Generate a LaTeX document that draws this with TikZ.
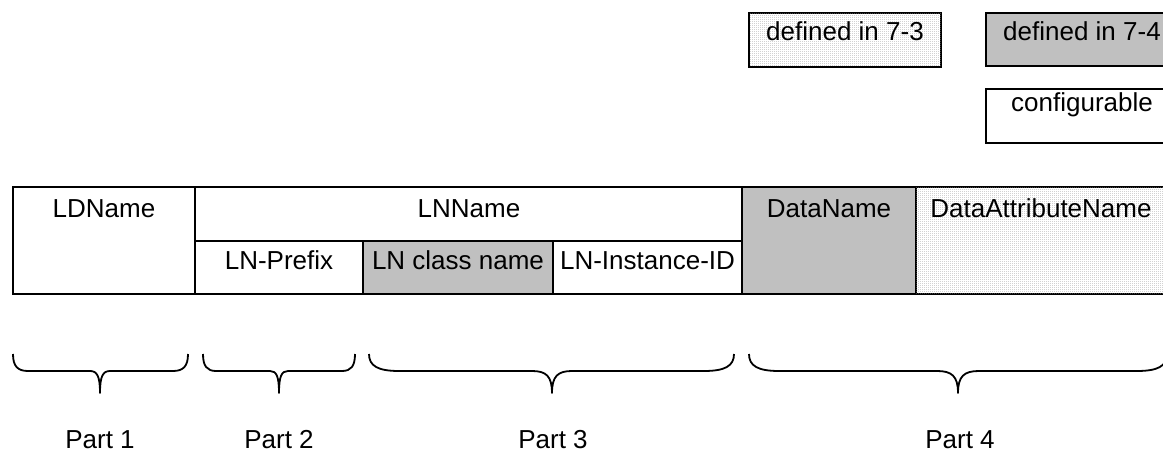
\documentclass[tikz,border=0pt]{standalone}
\usepackage{fontspec}
\setmainfont{Liberation Sans}
\usetikzlibrary{patterns}
\definecolor{cellgray}{RGB}{192,192,192}
\definecolor{dotgray}{RGB}{150,150,150}
\pgfdeclarepatternformonly{finedots}{\pgfqpoint{0pt}{0pt}}{\pgfqpoint{2pt}{2pt}}{\pgfqpoint{2pt}{2pt}}{%
  \pgfpathrectangle{\pgfqpoint{0pt}{0pt}}{\pgfqpoint{1pt}{1pt}}\pgfusepath{fill}}
\newcommand{\drawbrace}[5]{% x1, x2, xm, end radius, cusp radius
  \pgfmathsetmacro{\ba}{#1+#4}\pgfmathsetmacro{\bb}{#1+0.3*#4}%
  \pgfmathsetmacro{\bc}{#3-#5}\pgfmathsetmacro{\bd}{#3-0.3*#5}%
  \pgfmathsetmacro{\be}{#3+#5}\pgfmathsetmacro{\bf}{#3+0.3*#5}%
  \pgfmathsetmacro{\bg}{#2-#4}\pgfmathsetmacro{\bh}{#2-0.3*#4}%
  \draw[braceline] (#1,354) .. controls (#1,366) and (\bb,371) .. (\ba,371)
    -- (\bc,371) .. controls (\bd,371) and (#3,376) .. (#3,393)
    .. controls (#3,376) and (\bf,371) .. (\be,371)
    -- (\bg,371) .. controls (\bh,371) and (#2,366) .. (#2,354);}
\begin{document}
\begin{tikzpicture}[x=1pt,y=-1pt,
  cell/.style={draw=black, line width=1.6pt, anchor=north west, inner sep=0pt, outer sep=0pt},
  grayfill/.style={fill=cellgray},
  dotfill/.style={fill=white, postaction={pattern=finedots, pattern color=dotgray}},
  lbl/.style={anchor=base, inner sep=0pt, font=\fontsize{26}{30}\selectfont},
  braceline/.style={line width=1.8pt, line join=round}]
\useasboundingbox (0,0) rectangle (1163,452);
\clip (0,0) rectangle (1163,452);
% legend
\node[cell, dotfill, minimum width=192pt, minimum height=54pt] (l73) at (749,13) {};
\node[cell, grayfill, minimum width=192pt, minimum height=53pt] (l74) at (986,13) {};
\node[cell, minimum width=192pt, minimum height=54pt] (lconf) at (986,89) {};
\node[lbl] (t73) at (845,41) {defined in 7-3};
\node[lbl] (t74) at (1082,41) {defined in 7-4};
\node[lbl] (tconf) at (1082,112) {configurable};
% table
\node[cell, minimum width=182pt, minimum height=107pt] (ld) at (13,187) {};
\node[cell, minimum width=547pt, minimum height=54pt] (ln) at (195,187) {};
\node[cell, minimum width=168pt, minimum height=53pt] (pre) at (195,241) {};
\node[cell, grayfill, minimum width=190pt, minimum height=53pt] (cls) at (363,241) {};
\node[cell, minimum width=189pt, minimum height=53pt] (inst) at (553,241) {};
\node[cell, grayfill, minimum width=174pt, minimum height=107pt] (dn) at (742,187) {};
\node[cell, dotfill, minimum width=260pt, minimum height=107pt] (da) at (916,187) {};
\node[lbl] (tld) at (104,217) {LDName};
\node[lbl] (tln) at (469,217) {LNName};
\node[lbl] (tdn) at (829,217) {DataName};
\node[lbl] (tda) at (1041,217) {DataAttributeName};
\node[lbl] (tpre) at (279,269) {LN-Prefix};
\node[lbl] (tcls) at (458,269) {LN class name};
\node[lbl] (tinst) at (647.5,269) {LN-Instance-ID};
% braces
\drawbrace{13}{188}{100}{15}{10}
\drawbrace{203}{355}{279}{13}{9}
\drawbrace{369}{734}{552}{30}{20}
\drawbrace{749}{1167}{958}{30}{21}
\node[lbl] (p1) at (100,448) {Part 1};
\node[lbl] (p2) at (279,448) {Part 2};
\node[lbl] (p3) at (553,448) {Part 3};
\node[lbl] (p4) at (960,448) {Part 4};
\end{tikzpicture}
\end{document}
